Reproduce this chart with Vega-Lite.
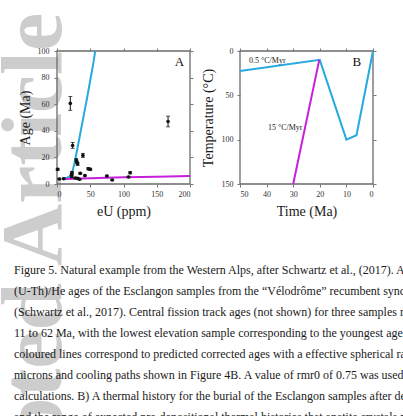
{
  "$schema": "https://vega.github.io/schema/vega-lite/v6.json",
  "width": 403,
  "height": 416,
  "autosize": "none",
  "padding": 0,
  "background": "white",
  "config": {
    "view": {"stroke": null},
    "axis": {
      "labelFont": "Liberation Serif",
      "labelFontSize": 8,
      "labelColor": "#333333",
      "titleFont": "Liberation Serif",
      "titleFontSize": 14,
      "titleFontWeight": "normal",
      "titleColor": "#1a1a1a",
      "tickColor": "#777777",
      "tickSize": 3,
      "tickWidth": 1,
      "domain": false,
      "grid": false
    }
  },
  "datasets": {
    "samples": [
      {"eU": 1, "age": 11, "lo": 10.2, "hi": 11.8},
      {"eU": 3.5, "age": 3.8, "lo": 3.3, "hi": 4.3},
      {"eU": 10, "age": 4, "lo": 3.5, "hi": 4.5},
      {"eU": 20, "age": 60.6, "lo": 55.4, "hi": 65.8},
      {"eU": 23.5, "age": 29, "lo": 26.8, "hi": 31.2},
      {"eU": 22, "age": 5.5, "lo": 4.9, "hi": 6.1},
      {"eU": 22, "age": 7, "lo": 6.4, "hi": 7.6},
      {"eU": 22.5, "age": 8.5, "lo": 7.7, "hi": 9.3},
      {"eU": 29, "age": 18, "lo": 17, "hi": 19},
      {"eU": 30, "age": 16.3, "lo": 15.3, "hi": 17.3},
      {"eU": 31, "age": 15, "lo": 14, "hi": 16},
      {"eU": 27.5, "age": 4.5, "lo": 4, "hi": 5},
      {"eU": 31, "age": 4.2, "lo": 3.7, "hi": 4.7},
      {"eU": 34, "age": 3.6, "lo": 3.1, "hi": 4.1},
      {"eU": 35, "age": 8, "lo": 7.4, "hi": 8.6},
      {"eU": 39, "age": 21.5, "lo": 20, "hi": 23},
      {"eU": 42, "age": 6.3, "lo": 5.8, "hi": 6.8},
      {"eU": 47, "age": 11.5, "lo": 10.7, "hi": 12.3},
      {"eU": 50, "age": 11, "lo": 10.2, "hi": 11.8},
      {"eU": 75, "age": 6, "lo": 5.4, "hi": 6.6},
      {"eU": 83, "age": 3, "lo": 2.5, "hi": 3.5},
      {"eU": 107.5, "age": 5.3, "lo": 4.8, "hi": 5.8},
      {"eU": 110, "age": 8.5, "lo": 7.7, "hi": 9.3},
      {"eU": 167, "age": 47, "lo": 43, "hi": 51}
    ],
    "modelAgeCurves": [
      {"path": "0.5 °C/Myr", "eU": 10, "age": 4.2},
      {"path": "0.5 °C/Myr", "eU": 16, "age": 5},
      {"path": "0.5 °C/Myr", "eU": 20, "age": 6},
      {"path": "0.5 °C/Myr", "eU": 23, "age": 9},
      {"path": "0.5 °C/Myr", "eU": 26, "age": 15},
      {"path": "0.5 °C/Myr", "eU": 30, "age": 25},
      {"path": "0.5 °C/Myr", "eU": 35, "age": 38},
      {"path": "0.5 °C/Myr", "eU": 40, "age": 51},
      {"path": "0.5 °C/Myr", "eU": 45, "age": 64},
      {"path": "0.5 °C/Myr", "eU": 50, "age": 78},
      {"path": "0.5 °C/Myr", "eU": 54, "age": 89},
      {"path": "0.5 °C/Myr", "eU": 57.5, "age": 100},
      {"path": "15 °C/Myr", "eU": 10, "age": 3.7},
      {"path": "15 °C/Myr", "eU": 50, "age": 4.4},
      {"path": "15 °C/Myr", "eU": 100, "age": 5},
      {"path": "15 °C/Myr", "eU": 150, "age": 5.5},
      {"path": "15 °C/Myr", "eU": 200, "age": 6}
    ],
    "thermalPaths": [
      {"path": "0.5 °C/Myr", "time": 50, "temp": 22.5},
      {"path": "0.5 °C/Myr", "time": 20, "temp": 10},
      {"path": "0.5 °C/Myr", "time": 10, "temp": 100},
      {"path": "0.5 °C/Myr", "time": 6.2, "temp": 95},
      {"path": "0.5 °C/Myr", "time": 0, "temp": 0},
      {"path": "15 °C/Myr", "time": 30, "temp": 150},
      {"path": "15 °C/Myr", "time": 20.2, "temp": 10}
    ],
    "caption": [
      {"line": 1, "text": "Figure 5. Natural example from the Western Alps, after Schwartz et al., (2017). A)"},
      {"line": 2, "text": "(U-Th)/He ages of the Esclangon samples from the “Vélodrôme” recumbent syncline"},
      {"line": 3, "text": "(Schwartz et al., 2017). Central fission track ages (not shown) for three samples range from"},
      {"line": 4, "text": "11 to 62 Ma, with the lowest elevation sample corresponding to the youngest age. The"},
      {"line": 5, "text": "coloured lines correspond to predicted corrected ages with a effective spherical radius of"},
      {"line": 6, "text": "microns and cooling paths shown in Figure 4B. A value of rmr0 of 0.75 was used in all"},
      {"line": 7, "text": "calculations. B) A thermal history for the burial of the Esclangon samples after deposition"},
      {"line": 8, "text": "and the range of expected pre-depositional thermal histories that apatite crystals may have"}
    ]
  },
  "resolve": {
    "scale": {"x": "independent", "y": "independent"},
    "axis": {"x": "independent", "y": "independent"}
  },
  "layer": [
    {
      "description": "Page watermark running up the left margin",
      "data": {"values": [{"text": "Accepted Article"}]},
      "mark": {"type": "text", "font": "Liberation Serif", "fontSize": 86, "fontWeight": "bold", "color": "#cdcdcd", "angle": 270, "align": "right", "baseline": "alphabetic"},
      "encoding": {
        "x": {"datum": 0.1514, "type": "quantitative", "scale": {"domain": [0, 1], "range": [0, 403]}, "axis": null},
        "y": {"datum": 0.031, "type": "quantitative", "scale": {"domain": [0, 1], "range": [0, 416]}, "axis": null},
        "text": {"field": "text"}
      }
    },
    {
      "description": "Panel A: age against effective uranium",
      "layer": [
        {
          "data": {"values": [{"eU0": 0, "eU1": 200, "age0": 0, "age1": 100}]},
          "mark": {"type": "rect", "filled": false, "color": "#6a6a6a", "strokeWidth": 1.3},
          "encoding": {
            "x": {"field": "eU0", "type": "quantitative", "scale": {"domain": [0, 200], "range": [57, 190]},
                  "axis": {"orient": "top", "offset": -51, "labels": false, "title": null, "values": [0, 50, 100, 150, 200], "zindex": 1}},
            "x2": {"field": "eU1"},
            "y": {"field": "age1", "type": "quantitative", "scale": {"domain": [0, 100], "range": [184, 51]},
                  "axis": {"orient": "right", "offset": -213, "labels": false, "title": null, "values": [0, 20, 40, 60, 80, 100], "zindex": 1}},
            "y2": {"field": "age0"}
          }
        },
        {
          "data": {"name": "modelAgeCurves"},
          "mark": {"type": "line", "strokeWidth": 2},
          "encoding": {
            "x": {"field": "eU", "type": "quantitative", "scale": {"domain": [0, 200], "range": [57, 190]},
                  "axis": {"orient": "bottom", "offset": -232, "title": "eU (ppm)", "values": [0, 50, 100, 150, 200], "labelPadding": 3, "titlePadding": 6, "zindex": 1}},
            "y": {"field": "age", "type": "quantitative", "scale": {"domain": [0, 100], "range": [184, 51]},
                  "axis": {"orient": "left", "offset": -57, "title": "Age (Ma)", "values": [0, 20, 40, 60, 80, 100], "labelPadding": 5, "titlePadding": 5, "zindex": 1}},
            "color": {"field": "path", "type": "nominal", "scale": {"domain": ["0.5 °C/Myr", "15 °C/Myr"], "range": ["#27a9e1", "#c81fdc"]}, "legend": null}
          }
        },
        {
          "data": {"name": "samples"},
          "mark": {"type": "rule", "color": "#111111", "strokeWidth": 1},
          "encoding": {
            "x": {"field": "eU", "type": "quantitative", "scale": {"domain": [0, 200], "range": [57, 190]}, "axis": null},
            "y": {"field": "lo", "type": "quantitative", "scale": {"domain": [0, 100], "range": [184, 51]}, "axis": null},
            "y2": {"field": "hi"}
          }
        },
        {
          "data": {"name": "samples"},
          "mark": {"type": "tick", "orient": "horizontal", "color": "#111111", "size": 4, "thickness": 1},
          "encoding": {
            "x": {"field": "eU", "type": "quantitative", "scale": {"domain": [0, 200], "range": [57, 190]}, "axis": null},
            "y": {"field": "lo", "type": "quantitative", "scale": {"domain": [0, 100], "range": [184, 51]}, "axis": null}
          }
        },
        {
          "data": {"name": "samples"},
          "mark": {"type": "tick", "orient": "horizontal", "color": "#111111", "size": 4, "thickness": 1},
          "encoding": {
            "x": {"field": "eU", "type": "quantitative", "scale": {"domain": [0, 200], "range": [57, 190]}, "axis": null},
            "y": {"field": "hi", "type": "quantitative", "scale": {"domain": [0, 100], "range": [184, 51]}, "axis": null}
          }
        },
        {
          "data": {"name": "samples"},
          "mark": {"type": "circle", "color": "#111111", "size": 13, "opacity": 1},
          "encoding": {
            "x": {"field": "eU", "type": "quantitative", "scale": {"domain": [0, 200], "range": [57, 190]}, "axis": null},
            "y": {"field": "age", "type": "quantitative", "scale": {"domain": [0, 100], "range": [184, 51]}, "axis": null}
          }
        },
        {
          "data": {"values": [{"label": "A", "eU": 184, "age": 92}]},
          "mark": {"type": "text", "font": "Liberation Serif", "fontSize": 13, "color": "#111111"},
          "encoding": {
            "x": {"field": "eU", "type": "quantitative", "scale": {"domain": [0, 200], "range": [57, 190]}, "axis": null},
            "y": {"field": "age", "type": "quantitative", "scale": {"domain": [0, 100], "range": [184, 51]}, "axis": null},
            "text": {"field": "label"}
          }
        }
      ]
    },
    {
      "description": "Panel B: thermal histories",
      "layer": [
        {
          "data": {"values": [{"t0": 0, "t1": 50, "T0": 0, "T1": 150}]},
          "mark": {"type": "rect", "filled": false, "color": "#6a6a6a", "strokeWidth": 1.3},
          "encoding": {
            "x": {"field": "t0", "type": "quantitative", "scale": {"domain": [0, 50], "reverse": true, "range": [240, 373]},
                  "axis": {"orient": "top", "offset": -51, "labels": false, "title": null, "values": [0, 10, 20, 30, 40, 50], "zindex": 1}},
            "x2": {"field": "t1"},
            "y": {"field": "T0", "type": "quantitative", "scale": {"domain": [0, 150], "range": [51, 184]},
                  "axis": {"orient": "right", "offset": -30, "labels": false, "title": null, "values": [0, 50, 100, 150], "zindex": 1}},
            "y2": {"field": "T1"}
          }
        },
        {
          "data": {"name": "thermalPaths"},
          "mark": {"type": "line", "strokeWidth": 2},
          "encoding": {
            "x": {"field": "time", "type": "quantitative", "scale": {"domain": [0, 50], "reverse": true, "range": [240, 373]},
                  "axis": {"orient": "bottom", "offset": -232, "title": "Time (Ma)", "values": [0, 10, 20, 30, 40, 50], "labelPadding": 3, "titlePadding": 6, "zindex": 1}},
            "y": {"field": "temp", "type": "quantitative", "scale": {"domain": [0, 150], "range": [51, 184]},
                  "axis": {"orient": "left", "offset": -240, "title": "Temperature (°C)", "values": [0, 50, 100, 150], "labelPadding": 4, "titlePadding": 6, "zindex": 1}},
            "color": {"field": "path", "type": "nominal", "legend": null}
          }
        },
        {
          "data": {"values": [
            {"label": "0.5 °C/Myr", "time": 46.6, "temp": 11.3},
            {"label": "15 °C/Myr", "time": 39.5, "temp": 86.8}
          ]},
          "mark": {"type": "text", "font": "Liberation Serif", "fontSize": 8, "color": "#222222", "align": "left", "baseline": "middle"},
          "encoding": {
            "x": {"field": "time", "type": "quantitative", "scale": {"domain": [0, 50], "reverse": true, "range": [240, 373]}, "axis": null},
            "y": {"field": "temp", "type": "quantitative", "scale": {"domain": [0, 150], "range": [51, 184]}, "axis": null},
            "text": {"field": "label"}
          }
        },
        {
          "data": {"values": [{"label": "B", "time": 6.1, "temp": 12}]},
          "mark": {"type": "text", "font": "Liberation Serif", "fontSize": 13, "color": "#111111"},
          "encoding": {
            "x": {"field": "time", "type": "quantitative", "scale": {"domain": [0, 50], "reverse": true, "range": [240, 373]}, "axis": null},
            "y": {"field": "temp", "type": "quantitative", "scale": {"domain": [0, 150], "range": [51, 184]}, "axis": null},
            "text": {"field": "label"}
          }
        }
      ]
    },
    {
      "description": "Figure caption",
      "data": {"name": "caption"},
      "mark": {"type": "text", "font": "Liberation Serif", "fontSize": 12, "color": "#1a1a1a", "align": "left", "baseline": "middle"},
      "encoding": {
        "x": {"datum": 0, "type": "quantitative", "scale": {"domain": [0, 1], "range": [14, 403]}, "axis": null},
        "y": {"field": "line", "type": "quantitative", "scale": {"domain": [1, 8], "range": [270, 417]}, "axis": null},
        "text": {"field": "text"}
      }
    }
  ]
}
